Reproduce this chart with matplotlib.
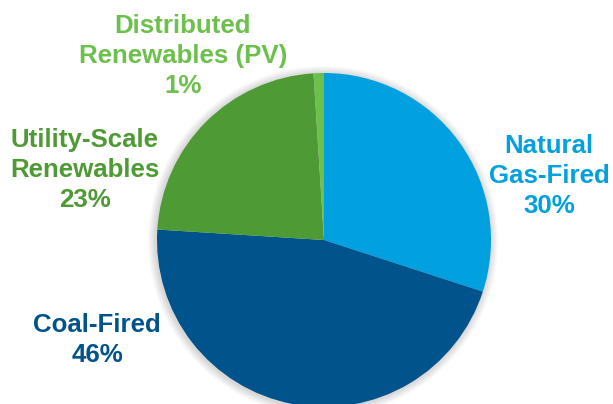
import matplotlib
matplotlib.use("Agg")
import matplotlib.pyplot as plt
from matplotlib.patches import Circle

# generation mix shares (%)
labels = ["Natural\nGas-Fired", "Coal-Fired", "Utility-Scale\nRenewables", "Distributed\nRenewables (PV)"]
shares = [30, 46, 23, 1]
colors = ["#00A1DE", "#00538B", "#4E9A34", "#6CC04B"]

# label anchor points in pixel space (x, y from top)
label_pos = [(549, 176), (97, 340), (85, 170), (183, 56)]

W, H = 613, 404
fig = plt.figure(figsize=(W / 100, H / 100), dpi=100)
ax = fig.add_axes([0, 0, 1, 1])
ax.set_xlim(0, W)
ax.set_ylim(0, H)
ax.set_aspect("equal")
ax.axis("off")

cx, cy, r = 324, H - 240, 167

# soft shadow behind the pie
for i in range(8, 0, -1):
    ax.add_patch(Circle((cx - 1, cy - 1), r + i, color="#000000", alpha=0.018, lw=0, zorder=0))

ax.pie(shares, colors=colors, startangle=90, counterclock=False,
       center=(cx, cy), radius=r, frame=True,
       wedgeprops=dict(linewidth=0))
ax.set_xlim(0, W)
ax.set_ylim(0, H)
ax.axis("off")

for lab, val, col, (x, y) in zip(labels, shares, colors, label_pos):
    ax.text(x, H - y, f"{lab}\n{val}%", color=col, ha="center", va="center",
            fontsize=18.6, fontweight="bold", family="Liberation Sans",
            linespacing=1.34)

fig.savefig("out.png", dpi=100)
